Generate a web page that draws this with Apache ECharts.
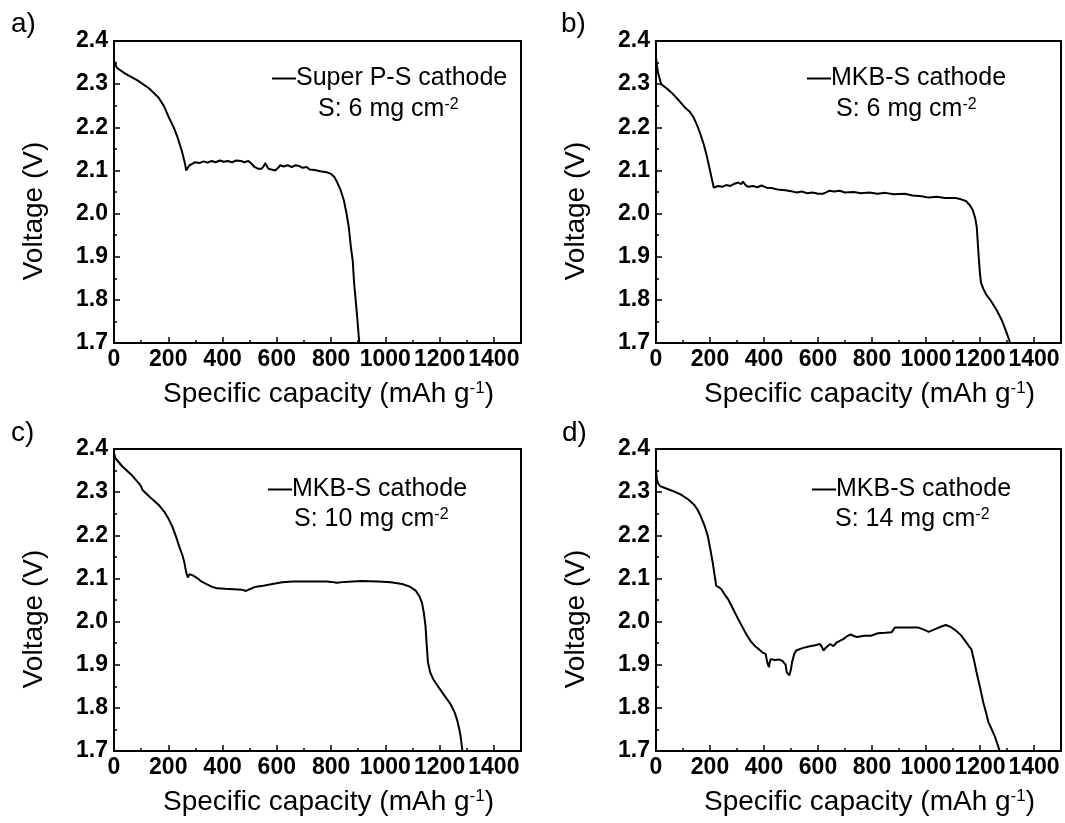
<!DOCTYPE html>
<html>
<head>
<meta charset="utf-8">
<script src="https://cdn.jsdelivr.net/npm/echarts@6/dist/echarts.min.js"></script>
<style>
html,body{margin:0;padding:0;background:#fff;}
#chart{width:1065px;height:823px;}
</style>
</head>
<body>
<div id="chart"></div>
<script>
// ---- data ----
const panelLabels = ['a)', 'b)', 'c)', 'd)'];
const seriesNames = ['Super P-S cathode', 'MKB-S cathode', 'MKB-S cathode', 'MKB-S cathode'];
const loadingLabels = ['6', '6', '10', '14'];
const xTickLabels = ['0', '200', '400', '600', '800', '1000', '1200', '1400'];
const yTickLabels = ['1.7', '1.8', '1.9', '2.0', '2.1', '2.2', '2.3', '2.4'];

const curveA = [[0,2.342],[3,2.352],[10,2.338],[40,2.325],[88,2.308],[130,2.290],[164,2.269],[185,2.248],[202,2.223],[220,2.200],[234,2.177],[250,2.145],[262,2.115],[266,2.100],[270,2.104],[278,2.112],[290,2.116],[300,2.119],[315,2.117],[330,2.121],[345,2.118],[360,2.122],[375,2.119],[390,2.123],[405,2.120],[420,2.122],[435,2.119],[450,2.123],[468,2.122],[480,2.119],[495,2.122],[506,2.116],[518,2.108],[530,2.104],[544,2.104],[552,2.110],[557,2.117],[563,2.114],[569,2.104],[580,2.102],[594,2.100],[605,2.106],[613,2.112],[625,2.109],[640,2.112],[655,2.108],[670,2.112],[683,2.110],[695,2.106],[710,2.108],[721,2.102],[740,2.101],[760,2.098],[784,2.096],[800,2.092],[812,2.085],[822,2.073],[835,2.055],[847,2.031],[857,2.000],[865,1.970],[873,1.923],[880,1.890],[885,1.838],[895,1.770],[904,1.700]];

const curveB = [[0,2.362],[4,2.340],[8,2.325],[19,2.300],[40,2.290],[63,2.277],[85,2.262],[107,2.246],[125,2.236],[139,2.223],[152,2.205],[164,2.185],[177,2.160],[189,2.131],[200,2.100],[208,2.077],[214,2.060],[230,2.064],[245,2.062],[260,2.066],[275,2.064],[290,2.069],[305,2.072],[315,2.068],[322,2.074],[332,2.066],[341,2.062],[360,2.064],[375,2.061],[391,2.065],[410,2.060],[430,2.059],[450,2.056],[479,2.054],[500,2.052],[520,2.049],[542,2.051],[560,2.047],[580,2.049],[600,2.046],[618,2.046],[630,2.049],[643,2.053],[660,2.051],[680,2.053],[700,2.049],[732,2.050],[760,2.047],[790,2.049],[820,2.046],[850,2.048],[880,2.045],[921,2.046],[950,2.042],[984,2.040],[1010,2.037],[1040,2.039],[1070,2.036],[1110,2.036],[1130,2.033],[1148,2.029],[1162,2.020],[1173,2.008],[1182,1.990],[1188,1.969],[1192,1.930],[1196,1.892],[1200,1.860],[1204,1.839],[1212,1.826],[1223,1.812],[1240,1.798],[1261,1.777],[1280,1.754],[1290,1.738],[1299,1.723],[1312,1.700]];

const curveC = [[0,2.390],[6,2.378],[30,2.360],[63,2.341],[95,2.318],[101,2.312],[105,2.305],[130,2.290],[164,2.271],[185,2.255],[202,2.237],[215,2.220],[228,2.198],[240,2.175],[253,2.152],[260,2.135],[266,2.114],[272,2.102],[278,2.110],[290,2.107],[304,2.102],[320,2.094],[341,2.087],[360,2.081],[379,2.077],[410,2.076],[442,2.075],[470,2.074],[487,2.071],[500,2.075],[518,2.080],[550,2.083],[594,2.088],[620,2.091],[658,2.093],[700,2.093],[784,2.093],[800,2.092],[822,2.090],[850,2.092],[911,2.094],[974,2.093],[1020,2.091],[1062,2.087],[1090,2.081],[1113,2.071],[1126,2.058],[1135,2.044],[1142,2.020],[1148,1.990],[1152,1.950],[1157,1.906],[1165,1.883],[1176,1.867],[1195,1.849],[1214,1.832],[1240,1.809],[1255,1.790],[1265,1.771],[1272,1.752],[1277,1.736],[1284,1.700]];

const curveD = [[0,2.352],[3,2.330],[8,2.320],[15,2.314],[40,2.308],[65,2.302],[91,2.295],[120,2.283],[141,2.271],[155,2.258],[166,2.244],[180,2.222],[192,2.198],[202,2.165],[210,2.137],[217,2.108],[223,2.083],[232,2.080],[242,2.075],[255,2.062],[267,2.052],[280,2.036],[292,2.021],[305,2.005],[318,1.990],[333,1.972],[349,1.956],[365,1.944],[381,1.936],[395,1.928],[406,1.925],[412,1.906],[418,1.894],[421,1.905],[425,1.913],[440,1.911],[456,1.912],[468,1.909],[475,1.910],[480,1.900],[484,1.883],[494,1.875],[500,1.890],[504,1.906],[512,1.925],[519,1.933],[545,1.939],[570,1.943],[590,1.945],[607,1.948],[614,1.942],[620,1.933],[630,1.940],[645,1.948],[657,1.943],[670,1.952],[695,1.960],[710,1.967],[721,1.970],[735,1.966],[746,1.964],[770,1.967],[796,1.967],[822,1.973],[850,1.974],[872,1.975],[885,1.986],[920,1.986],[972,1.986],[990,1.982],[1010,1.976],[1025,1.980],[1036,1.983],[1055,1.988],[1073,1.992],[1090,1.988],[1111,1.979],[1130,1.968],[1149,1.952],[1160,1.942],[1168,1.936],[1178,1.910],[1187,1.883],[1200,1.848],[1212,1.813],[1222,1.790],[1231,1.767],[1245,1.748],[1256,1.732],[1265,1.715],[1273,1.700]];

const curves = [curveA, curveB, curveC, curveD];

// ---- layout ----
const FONT = '"Liberation Sans", Arial, sans-serif';
const grids = [
  {left: 114, top: 41, width: 407, height: 302},
  {left: 656, top: 41, width: 405, height: 302},
  {left: 114, top: 449, width: 407, height: 302},
  {left: 656, top: 449, width: 405, height: 302}
];
const legendPos = [
  {left: 272, top: 66}, {left: 807, top: 66},
  {left: 268, top: 477}, {left: 812, top: 477}
];
const subPos = [
  {left: 318, top: 97}, {left: 836, top: 97},
  {left: 294, top: 507}, {left: 835, top: 507}
];
const labelPos = [
  {left: 11, top: 10}, {left: 561, top: 10},
  {left: 11, top: 419}, {left: 562, top: 419}
];

const chart = echarts.init(document.getElementById('chart'), null, {renderer: 'canvas'});

const xAxes = grids.map((g, i) => ({
  type: 'value', gridIndex: i, min: 0, max: 1500, interval: 200,
  name: 'Specific capacity (mAh g{s|-1})',
  nameLocation: 'middle', nameGap: 37,
  nameTextStyle: {fontSize: 28, fontFamily: FONT, color: '#000', padding: [0, 0, 0, 22],
    rich: {s: {fontSize: 17, fontFamily: FONT, color: '#000', verticalAlign: 'top'}}},
  axisLine: {show: true, lineStyle: {color: '#000', width: 2}},
  axisTick: {show: true, inside: true, length: 6, lineStyle: {color: '#000', width: 1.5}},
  minorTick: {show: true, splitNumber: 2, length: 3, lineStyle: {color: '#000', width: 1.5}},
  splitLine: {show: false},
  axisLabel: {
    fontSize: 23, fontWeight: 'bold', fontFamily: FONT, color: '#000', margin: 5,
    showMaxLabel: false,
    formatter: v => { const k = xTickLabels.indexOf(String(Math.round(v))); return k >= 0 ? xTickLabels[k] : ''; }
  }
}));

const yAxes = grids.map((g, i) => ({
  type: 'value', gridIndex: i, min: 1.7, max: 2.4, interval: 0.1,
  name: 'Voltage (V)', nameLocation: 'middle', nameGap: 66,
  nameTextStyle: {fontSize: 28, fontFamily: FONT, color: '#000', padding: [0, 38, 0, 0]},
  axisLine: {show: true, lineStyle: {color: '#000', width: 2}},
  axisTick: {show: true, inside: true, length: 6, lineStyle: {color: '#000', width: 1.5}},
  minorTick: {show: true, splitNumber: 2, length: 3, lineStyle: {color: '#000', width: 1.5}},
  splitLine: {show: false},
  axisLabel: {
    fontSize: 23, fontWeight: 'bold', fontFamily: FONT, color: '#000', margin: 6,
    formatter: v => { const s = v.toFixed(1); return yTickLabels.indexOf(s) >= 0 ? s : ''; }
  }
}));

const series = curves.map((c, i) => ({
  type: 'line', name: seriesNames[i], xAxisIndex: i, yAxisIndex: i,
  data: c, showSymbol: false, symbol: 'none', smooth: false,
  lineStyle: {color: '#000', width: 2}, itemStyle: {color: '#000'},
  animation: false
}));

const legends = legendPos.map((p, i) => ({
  left: p.left, top: p.top, padding: 0, data: [seriesNames[i]],
  icon: 'rect', itemWidth: 24, itemHeight: 2, itemGap: 0, selectedMode: false,
  textStyle: {fontSize: 25, fontFamily: FONT, color: '#000', padding: [0, 0, 0, -5]}
}));

const titles = subPos.map((p, i) => ({
  left: p.left, top: p.top, padding: 0,
  text: 'S: ' + loadingLabels[i] + ' mg cm{s|-2}',
  textStyle: {fontSize: 25, fontWeight: 'normal', fontFamily: FONT, color: '#000',
    rich: {s: {fontSize: 16, fontFamily: FONT, color: '#000', verticalAlign: 'top'}}}
}));

const graphics = labelPos.map((p, i) => ({
  type: 'text', left: p.left, top: p.top,
  style: {text: panelLabels[i], font: '28px ' + FONT, fill: '#000'}
}));

chart.setOption({
  animation: false,
  backgroundColor: '#fff',
  grid: grids.map(g => Object.assign({show: true, borderColor: '#000', borderWidth: 2, backgroundColor: 'transparent', containLabel: false}, g)),
  xAxis: xAxes,
  yAxis: yAxes,
  legend: legends,
  title: titles,
  graphic: graphics,
  series: series
});
</script>
</body>
</html>
